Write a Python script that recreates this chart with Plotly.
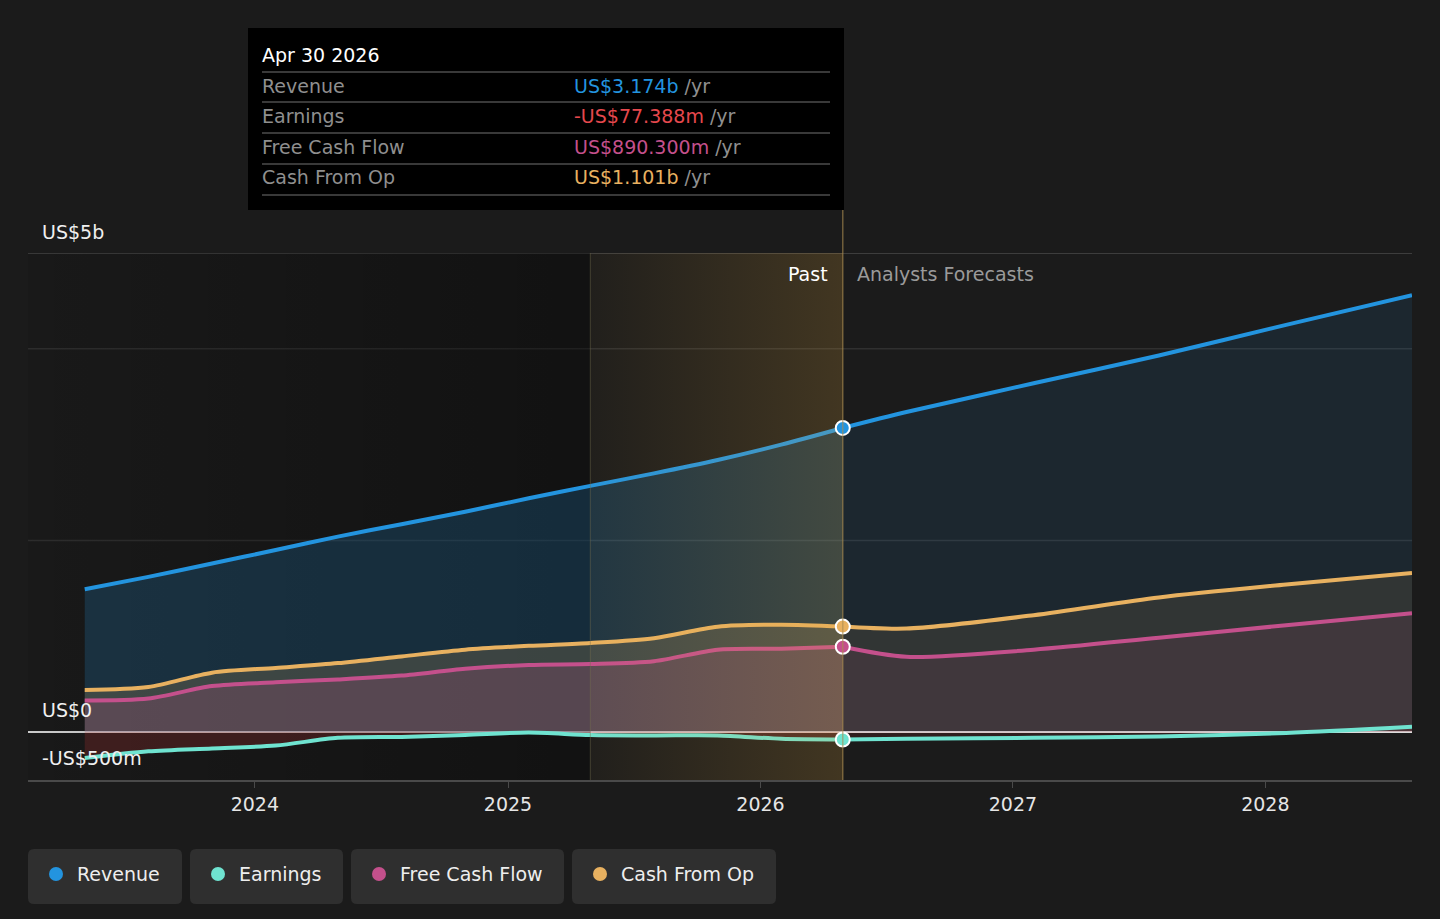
import plotly.graph_objects as go

# quarterly history (trailing twelve months) and analyst forecasts, values in US$ billions
past_dates = ["2023-04-30", "2023-07-31", "2023-10-31", "2024-01-31", "2024-04-30",
              "2024-07-31", "2024-10-31", "2025-01-31", "2025-04-30", "2025-07-31",
              "2025-10-31", "2026-01-31", "2026-04-30"]
fc_dates = ["2026-04-30", "2026-07-31", "2027-01-31", "2027-07-31", "2028-01-31", "2028-07-31"]

revenue_past = [1.49, 1.62, 1.76, 1.90, 2.04, 2.17, 2.30, 2.44, 2.57, 2.70, 2.84, 3.00, 3.174]
revenue_fc = [3.174, 3.34, 3.64, 3.93, 4.25, 4.56]

earnings_past = [-0.27, -0.20, -0.17, -0.14, -0.06, -0.05, -0.03, -0.005, -0.03, -0.035, -0.035, -0.07, -0.077388]
earnings_fc = [-0.077388, -0.07, -0.06, -0.045, -0.01, 0.055]

fcf_past = [0.33, 0.35, 0.48, 0.52, 0.55, 0.59, 0.66, 0.70, 0.71, 0.74, 0.86, 0.87, 0.8903]
fcf_fc = [0.8903, 0.786, 0.86, 0.985, 1.115, 1.24]

cfo_past = [0.44, 0.47, 0.62, 0.67, 0.72, 0.79, 0.86, 0.90, 0.93, 0.98, 1.10, 1.12, 1.101]
cfo_fc = [1.101, 1.08, 1.22, 1.405, 1.54, 1.66]

names = ["Revenue", "Earnings", "Free Cash Flow", "Cash From Op"]
colors = ["#2394df", "#6fe3d0", "#c4508c", "#e8b160"]
tooltip_values = ["US$3.174b", "-US$77.388m", "US$890.300m", "US$1.101b"]
tooltip_colors = ["#2394df", "#e5484d", "#c4508c", "#e8b160"]

highlight_date = "2026-04-30"
past_start = "2025-04-30"
x_range = ["2023-02-07", "2028-07-31"]
y_range = [-0.5, 5]
year_ticks = ["2024-01-01", "2025-01-01", "2026-01-01", "2027-01-01", "2028-01-01"]
year_labels = ["2024", "2025", "2026", "2027", "2028"]

FONT = "DejaVu Sans"
FS = 19
BG = "#1b1b1b"

# plot area in pixels (page is 1440 x 919)
L, R, T, B = 28, 1412, 253, 780


def px(x):
    return (x - L) / (R - L)


def py(y):
    return (B - y) / (B - T)


fig = go.Figure()

# darker band left of the "past" window
fig.add_trace(go.Scatter(
    x=[x_range[0], past_start, past_start, x_range[0]],
    y=[y_range[0], y_range[0], y_range[1], y_range[1]],
    fill="toself", mode="none", hoverinfo="skip", showlegend=False,
    fillgradient=dict(type="horizontal",
                      colorscale=[[0, "rgba(0,0,0,0.08)"], [1, "rgba(0,0,0,0.35)"]]),
))

fills = {
    "Revenue": ("rgba(35,148,223,0.20)", "rgba(35,148,223,0.10)"),
    "Cash From Op": ("rgba(232,177,96,0.18)", "rgba(232,177,96,0.10)"),
    "Free Cash Flow": ("rgba(196,80,140,0.20)", "rgba(196,80,140,0.10)"),
    "Earnings": ("rgba(200,55,55,0.22)", "rgba(200,55,55,0.12)"),
}
data = {
    "Revenue": (revenue_past, revenue_fc),
    "Earnings": (earnings_past, earnings_fc),
    "Free Cash Flow": (fcf_past, fcf_fc),
    "Cash From Op": (cfo_past, cfo_fc),
}
col = dict(zip(names, colors))

for name in ["Revenue", "Cash From Op", "Free Cash Flow", "Earnings"]:
    past, fc = data[name]
    fp, ff = fills[name]
    fig.add_trace(go.Scatter(
        x=past_dates, y=past, mode="lines", fill="tozeroy", fillcolor=fp,
        line=dict(color=col[name], width=4, shape="spline", smoothing=0.8),
        hoverinfo="skip", showlegend=False,
    ))
    fig.add_trace(go.Scatter(
        x=fc_dates, y=fc, mode="lines", fill="tozeroy", fillcolor=ff,
        line=dict(color=col[name], width=4, shape="spline", smoothing=0.8),
        hoverinfo="skip", showlegend=False,
    ))

# highlighted "past" year, golden gradient over the series
fig.add_trace(go.Scatter(
    x=[past_start, highlight_date, highlight_date, past_start],
    y=[y_range[0], y_range[0], y_range[1], y_range[1]],
    fill="toself", mode="none", hoverinfo="skip", showlegend=False,
    fillgradient=dict(type="horizontal",
                      colorscale=[[0, "rgba(230,170,60,0.03)"], [1, "rgba(230,170,60,0.19)"]]),
))

# markers at the selected date
for name, past in zip(names, [revenue_past, earnings_past, fcf_past, cfo_past]):
    fig.add_trace(go.Scatter(
        x=[highlight_date], y=[past[-1]], mode="markers",
        marker=dict(size=14, color=col[name], line=dict(color="white", width=2)),
        hoverinfo="skip", showlegend=False,
    ))

shapes = []
# horizontal guide lines
for val, c in [(5, "#4a4a4a"), (4, "#303030"), (2, "#303030")]:
    shapes.append(dict(type="line", xref="paper", yref="y", x0=0, x1=1, y0=val, y1=val,
                       line=dict(color=c, width=1.5), layer="below"))
# edges of the past window
shapes.append(dict(type="line", xref="x", yref="paper", x0=past_start, x1=past_start,
                   y0=0, y1=1, line=dict(color="rgba(120,110,80,0.45)", width=1)))
shapes.append(dict(type="line", xref="x", yref="paper", x0=highlight_date, x1=highlight_date,
                   y0=0, y1=py(210), line=dict(color="rgba(170,140,80,0.6)", width=1.5)))

# tooltip box
shapes.append(dict(type="rect", xref="paper", yref="paper", x0=px(248), x1=px(844),
                   y0=py(210), y1=py(28), fillcolor="#000000", line=dict(width=0)))
for sep in [72, 102, 133, 164, 195]:
    shapes.append(dict(type="line", xref="paper", yref="paper", x0=px(262), x1=px(830),
                       y0=py(sep), y1=py(sep), line=dict(color="#4d4d4d", width=1.5)))


def rounded(x0, y0, x1, y1, r=6):
    return (f"M {px(x0 + r)},{py(y0)} L {px(x1 - r)},{py(y0)} "
            f"Q {px(x1)},{py(y0)} {px(x1)},{py(y0 + r)} L {px(x1)},{py(y1 - r)} "
            f"Q {px(x1)},{py(y1)} {px(x1 - r)},{py(y1)} L {px(x0 + r)},{py(y1)} "
            f"Q {px(x0)},{py(y1)} {px(x0)},{py(y1 - r)} L {px(x0)},{py(y0 + r)} "
            f"Q {px(x0)},{py(y0)} {px(x0 + r)},{py(y0)} Z")


def label(x, y, text, color, anchor="left"):
    return dict(xref="paper", yref="paper", x=px(x), y=py(y), text=text, showarrow=False,
                xanchor=anchor, yanchor="middle", font=dict(family=FONT, size=FS, color=color))


annotations = []
legend_boxes = [(28, 182), (190, 343), (351, 564), (572, 776)]
for (bx0, bx1), name, c in zip(legend_boxes, names, colors):
    shapes.append(dict(type="path", xref="paper", yref="paper", path=rounded(bx0, 849, bx1, 904),
                       fillcolor="#2f2f2f", line=dict(width=0)))
    cx = bx0 + 28
    shapes.append(dict(type="circle", xref="paper", yref="paper", x0=px(cx - 7), x1=px(cx + 7),
                       y0=py(881), y1=py(867), fillcolor=c, line=dict(width=0)))
    annotations.append(label(bx0 + 47, 874, name, "#eeeeee"))

# tooltip text
annotations.append(label(260, 55, "Apr 30 2026", "#ffffff"))
for row_y, name, val, vc in zip([86, 116, 147, 177], names, tooltip_values, tooltip_colors):
    annotations.append(label(260, row_y, name, "#8f8f8f"))
    annotations.append(label(572, row_y, f"<span style='color:{vc}'>{val}</span> /yr", "#8f8f8f"))

# y labels sitting on their guide lines
for text, ly in [("US$5b", 232), ("US$0", 710), ("-US$500m", 758)]:
    annotations.append(label(40, ly, text, "#f0f0f0"))

annotations.append(label(830, 274, "Past", "#ffffff", anchor="right"))
annotations.append(label(855, 274, "Analysts Forecasts", "#9a9a9a"))

fig.update_layout(
    width=1440, height=919,
    margin=dict(l=L, r=1440 - R, t=T, b=919 - B),
    paper_bgcolor=BG, plot_bgcolor=BG,
    showlegend=False,
    shapes=shapes, annotations=annotations,
    font=dict(family=FONT, color="#dddddd"),
)
fig.update_xaxes(type="date", range=x_range, tickvals=year_ticks, ticktext=year_labels,
                 showgrid=False, zeroline=False, showline=True, linecolor="#4a4a4a", linewidth=1.5,
                 ticks="outside", ticklen=6, tickcolor="#4a4a4a",
                 tickfont=dict(family=FONT, size=FS, color="#e6e6e6"))
fig.update_yaxes(range=y_range, showgrid=False, showticklabels=False,
                 zeroline=True, zerolinecolor="#dcdcdc", zerolinewidth=2)

fig.write_html("out.html", config={"displayModeBar": False},
               post_script="document.body.style.margin='0';")
